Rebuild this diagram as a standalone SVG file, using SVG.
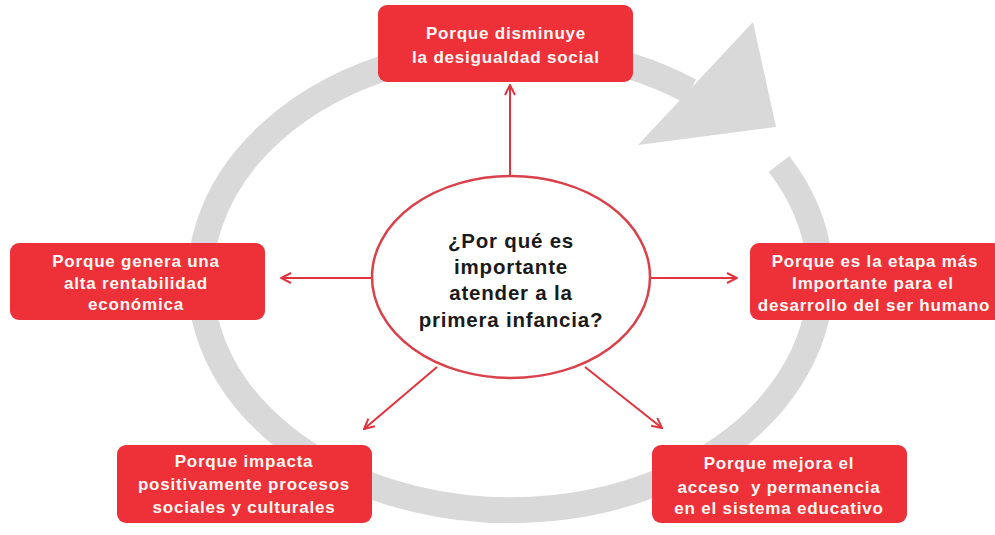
<svg xmlns="http://www.w3.org/2000/svg" width="995" height="535" viewBox="0 0 995 535">
<defs>
<style>
.box{fill:#ee3139;}
.bt{font-family:"Liberation Sans",Arial,sans-serif;font-weight:bold;font-size:17px;letter-spacing:0.8px;fill:#fff8f4;text-anchor:middle;}
.ct{font-family:"Liberation Sans",Arial,sans-serif;font-weight:bold;font-size:20.5px;letter-spacing:0.8px;fill:#1a1a1a;text-anchor:middle;}
.con{stroke:#e0333d;stroke-width:2;fill:none;}
</style>
<marker id="arr" viewBox="0 0 12 12" refX="11" refY="6" markerWidth="12" markerHeight="12" markerUnits="userSpaceOnUse" orient="auto">
<path d="M1,1 L11,6 L1,11" fill="none" stroke="#e0333d" stroke-width="2"/>
</marker>
</defs>
<rect width="995" height="535" fill="#ffffff"/>
<g id="cycle">
<path d="M779,164 A310,231 0 1 1 690,91" fill="none" stroke="#d9d9d9" stroke-width="26"/>
<polygon points="753,22 776,127 638,145" fill="#d9d9d9"/>
</g>
<g id="connectors">
<line class="con" x1="510" y1="176" x2="510" y2="85" marker-end="url(#arr)"/>
<line class="con" x1="372" y1="278" x2="281" y2="278" marker-end="url(#arr)"/>
<line class="con" x1="650" y1="278" x2="737" y2="278" marker-end="url(#arr)"/>
<line class="con" x1="437" y1="367" x2="364" y2="429" marker-end="url(#arr)"/>
<line class="con" x1="585" y1="367" x2="662" y2="428" marker-end="url(#arr)"/>
</g>
<g id="center">
<ellipse cx="511" cy="277" rx="139" ry="101" fill="#ffffff" stroke="#d9414b" stroke-width="2.5"/>
<text class="ct" x="511" y="248">¿Por qué es</text>
<text class="ct" x="511" y="274">importante</text>
<text class="ct" x="511" y="300">atender a la</text>
<text class="ct" x="511" y="327">primera infancia?</text>
</g>
<g id="top">
<rect class="box" x="378" y="5" width="255" height="77" rx="9"/>
<text class="bt" x="506" y="39">Porque disminuye</text>
<text class="bt" x="506" y="63">la desigualdad social</text>
</g>
<g id="left">
<rect class="box" x="10" y="243" width="255" height="77" rx="9"/>
<text class="bt" x="136" y="267">Porque genera una</text>
<text class="bt" x="136" y="289">alta rentabilidad</text>
<text class="bt" x="136" y="310">económica</text>
</g>
<g id="right">
<rect class="box" x="750" y="243" width="252" height="77" rx="9"/>
<text class="bt" x="875" y="267">Porque es la etapa más</text>
<text class="bt" x="873" y="289">Importante para el</text>
<text class="bt" x="874" y="311">desarrollo del ser humano</text>
</g>
<g id="bottom-left">
<rect class="box" x="117" y="445" width="255" height="78" rx="9"/>
<text class="bt" x="244" y="467">Porque impacta</text>
<text class="bt" x="244" y="490">positivamente procesos</text>
<text class="bt" x="244" y="513">sociales y culturales</text>
</g>
<g id="bottom-right">
<rect class="box" x="652" y="445" width="255" height="78" rx="9"/>
<text class="bt" x="779" y="469">Porque mejora el</text>
<text class="bt" x="779" y="493" xml:space="preserve">acceso  y permanencia</text>
<text class="bt" x="779" y="514">en el sistema educativo</text>
</g>
</svg>
